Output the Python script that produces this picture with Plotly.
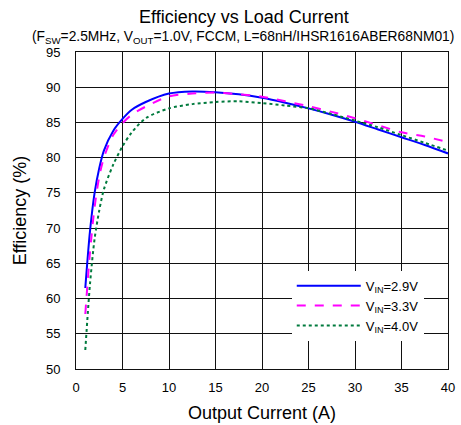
import plotly.graph_objects as go

current = [1, 1.5, 2, 2.5, 3, 4, 5, 6, 7.5, 10, 12.5, 15, 17.5, 20, 22.5, 25, 27.5, 30, 32.5, 35, 37.5, 40]
eff_29 = [61.5, 69.5, 75.0, 78.5, 81.0, 83.8, 85.5, 86.8, 87.9, 89.1, 89.4, 89.3, 89.0, 88.5, 87.8, 87.0, 86.1, 85.1, 84.0, 82.9, 81.8, 80.6]
eff_33 = [57.8, 66.5, 73.0, 77.3, 80.0, 83.2, 84.9, 86.1, 87.25, 88.7, 89.1, 89.25, 89.0, 88.65, 88.0, 87.3, 86.5, 85.6, 84.6, 83.6, 83.0, 82.2]
eff_40 = [52.7, 62.0, 68.5, 72.5, 75.5, 79.0, 81.6, 83.6, 85.6, 87.0, 87.6, 87.9, 88.0, 87.75, 87.4, 87.0, 86.2, 85.25, 84.3, 83.2, 82.1, 81.0]

series = [
    ("V<sub>IN</sub>=2.9V", eff_29, "#0000ff", "solid"),
    ("V<sub>IN</sub>=3.3V", eff_33, "#ff00ff", "dash"),
    ("V<sub>IN</sub>=4.0V", eff_40, "#007a3d", "dot"),
]

FONT = "Liberation Sans, Arial, sans-serif"

fig = go.Figure()
for name, ys, color, dash in series:
    fig.add_trace(go.Scatter(
        x=current, y=ys, mode="lines", name=name,
        line=dict(color=color, width=2, dash=dash, shape="spline", smoothing=0.8),
    ))

fig.update_layout(
    width=461, height=425,
    margin=dict(l=76, r=13, t=52, b=56, autoexpand=False),
    paper_bgcolor="white", plot_bgcolor="white",
    font=dict(family=FONT, size=13, color="#000"),
    showlegend=True,
    legend=dict(
        x=0.58, y=0.31, xanchor="left", yanchor="top",
        bgcolor="white", borderwidth=0,
        font=dict(family=FONT, size=13, color="#000"),
        tracegroupgap=0, itemwidth=64,
    ),
    xaxis=dict(
        range=[0, 40], dtick=5, tick0=0, automargin=False,
        showgrid=True, gridcolor="#111", gridwidth=1,
        showline=True, linecolor="#111", linewidth=1, mirror=True,
        zeroline=False, ticks="", ticklen=0, ticklabelstandoff=6,
        tickfont=dict(size=13),
        title=dict(text="Output Current (A)", font=dict(size=18), standoff=12),
    ),
    yaxis=dict(
        range=[50, 95], dtick=5, tick0=50, automargin=False,
        showgrid=True, gridcolor="#111", gridwidth=1,
        showline=True, linecolor="#111", linewidth=1, mirror=True,
        zeroline=False, ticks="", ticklen=0, ticklabelstandoff=12,
        tickfont=dict(size=13),
        title=dict(text="Efficiency (%)", font=dict(size=18), standoff=14),
    ),
    annotations=[
        dict(text="Efficiency vs Load Current", xref="paper", yref="paper",
             x=(244 - 76) / 372, y=1 + (52 - 17) / 317, xanchor="center", yanchor="middle",
             showarrow=False, font=dict(size=18, family=FONT)),
        dict(text="(F<sub>SW</sub>=2.5MHz, V<sub>OUT</sub>=1.0V, FCCM, L=68nH/IHSR1616ABER68NM01)",
             xref="paper", yref="paper",
             x=(243 - 76) / 372, y=1 + (52 - 37) / 317, xanchor="center", yanchor="middle",
             showarrow=False, font=dict(size=13.8, family=FONT)),
    ],
)

fig.write_html("out.html")
